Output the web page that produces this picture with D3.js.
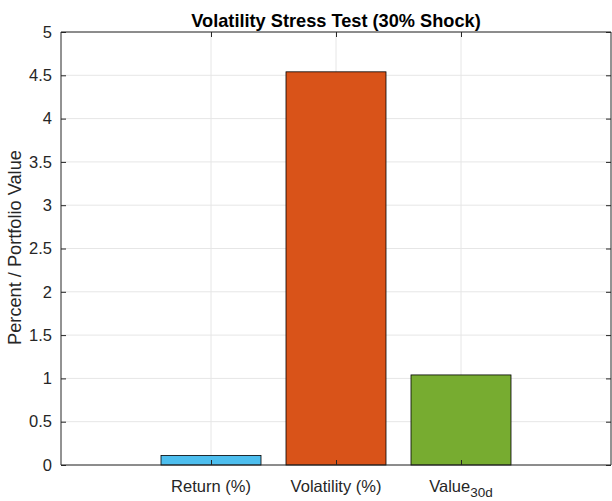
<!DOCTYPE html>
<html><head><meta charset="utf-8">
<script src="https://cdn.jsdelivr.net/npm/d3@7"></script>
<style>body{margin:0;background:#fff}svg{display:block}text{font-family:"Liberation Sans",Arial,sans-serif}</style>
</head><body>
<script>
const categories = ["Return (%)", "Volatility (%)", "Value_30d"];
const values = [0.11, 4.54, 1.04];
const colors = ["#4DBEEE", "#D95319", "#77AC30"];
const yTicks = [0, 0.5, 1, 1.5, 2, 2.5, 3, 3.5, 4, 4.5, 5];
const xPositions = [1, 2, 3];

const W = 612, H = 501;
const m = {left: 61, right: 1, top: 32, bottom: 36};
const svg = d3.select("body").append("svg").attr("width", W).attr("height", H);
const x = d3.scaleLinear().domain([-0.2, 4.2]).range([m.left, W - m.right]);
const y = d3.scaleLinear().domain([0, 5]).range([H - m.bottom, m.top]);
const ax = "#262626";

// grid
const g = svg.append("g");
g.selectAll(".gy").data(yTicks).enter().append("line")
  .attr("x1", x(-0.2)).attr("x2", x(4.2)).attr("y1", d => y(d)).attr("y2", d => y(d))
  .attr("stroke", "#e6e6e6").attr("stroke-width", 1);
g.selectAll(".gx").data(xPositions).enter().append("line")
  .attr("x1", d => x(d)).attr("x2", d => x(d)).attr("y1", y(0)).attr("y2", y(5))
  .attr("stroke", "#e6e6e6").attr("stroke-width", 1);

// bars
svg.selectAll(".bar").data(values).enter().append("rect")
  .attr("x", (d, i) => x(xPositions[i] - 0.4))
  .attr("width", (d, i) => x(xPositions[i] + 0.4) - x(xPositions[i] - 0.4))
  .attr("y", d => y(d)).attr("height", d => y(0) - y(d))
  .attr("fill", (d, i) => colors[i]).attr("stroke", "#000").attr("stroke-width", 0.8);

// axes
const axLeft = d3.axisLeft(y).tickValues(yTicks).tickSize(-5).tickPadding(9).tickFormat(d3.format("~g"));
const axRight = d3.axisRight(y).tickValues(yTicks).tickSize(-5).tickFormat("");
const axBottom = d3.axisBottom(x).tickValues(xPositions).tickSize(-5).tickPadding(12).tickFormat("");
const axTop = d3.axisTop(x).tickValues(xPositions).tickSize(-5).tickFormat("");
function style(sel) {
  sel.selectAll("path, line").attr("stroke", ax).attr("stroke-width", 1);
  sel.selectAll("path").attr("fill", "none");
  sel.selectAll("text").attr("fill", ax).attr("font-size", 16.5).attr("font-family", "Liberation Sans, Arial, sans-serif");
}
svg.append("g").attr("transform", `translate(${m.left},0)`).call(axLeft).call(style).call(s => s.select(".domain").attr("d", `M0,${y(5)}V${y(0)}`));
svg.append("g").attr("transform", `translate(${W - m.right},0)`).call(axRight).call(style).call(s => s.select(".domain").attr("d", `M0,${y(5)}V${y(0)}`));
svg.append("g").attr("transform", `translate(0,${y(0)})`).call(axBottom).call(style).call(s => s.select(".domain").attr("d", `M${x(-0.2)},0H${x(4.2)}`));
svg.append("g").attr("transform", `translate(0,${y(5)})`).call(axTop).call(style).call(s => s.select(".domain").attr("d", `M${x(-0.2)},0H${x(4.2)}`));

// x labels
const xl = svg.append("g");
categories.forEach((c, i) => {
  const t = xl.append("text").attr("x", x(xPositions[i])).attr("y", y(0) + 27)
    .attr("text-anchor", "middle").attr("font-size", 16.5).attr("fill", ax);
  if (c.includes("_")) {
    const [base, sub] = c.split("_");
    t.append("tspan").text(base);
    t.append("tspan").attr("dy", 5).attr("font-size", 13.5).text(sub);
  } else t.text(c);
});

// title
svg.append("text").attr("x", (m.left + W - m.right) / 2).attr("y", 27)
  .attr("text-anchor", "middle").attr("font-weight", "bold").attr("font-size", 18.2).attr("fill", "#000")
  .text("Volatility Stress Test (30% Shock)");

// y label
svg.append("text").attr("transform", `translate(21,${(y(0) + y(5)) / 2 - 1}) rotate(-90)`)
  .attr("text-anchor", "middle").attr("font-size", 18.2).attr("fill", ax)
  .text("Percent / Portfolio Value");
</script>
</body></html>
